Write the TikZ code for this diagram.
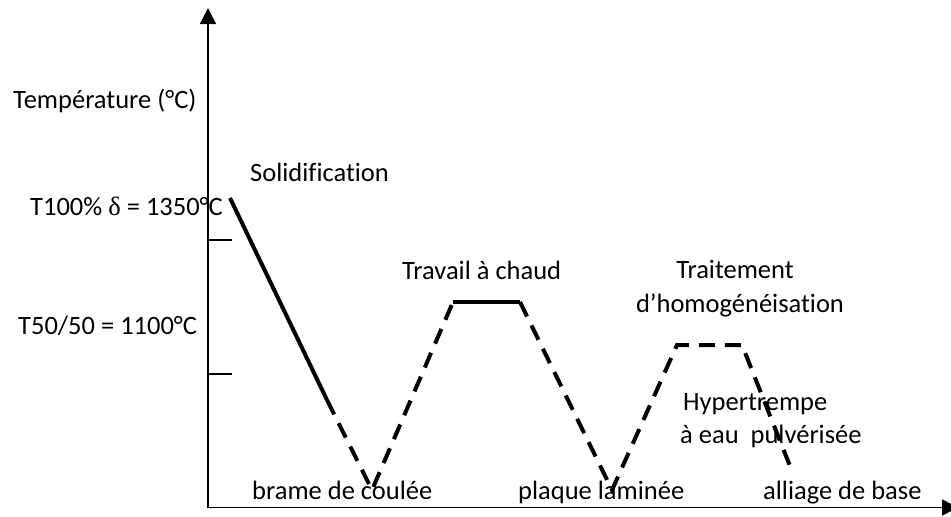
\documentclass[tikz,border=0pt]{standalone}
\usepackage{fontspec}
\setmainfont[Ligatures=NoCommon]{Carlito}
\newfontfamily\grkfont{Liberation Serif}
\usetikzlibrary{arrows.meta}
\begin{document}
\begin{tikzpicture}[x=1pt,y=-1pt,
  axis/.style={line width=1.5pt},
  tickline/.style={line width=1.2pt},
  curve/.style={line width=4pt},
  dcurve/.style={line width=4pt,dash pattern=on 16pt off 10pt},
  lbl/.style={anchor=base west,inner sep=0pt,font=\fontsize{26.5}{31}\selectfont}]
\useasboundingbox (0,0) rectangle (951,517);
% axes
\coordinate (O) at (208,507.5);
\coordinate (ytop) at (208,8);
\coordinate (xend) at (958,507.5);
\draw[axis,-{Triangle[length=16pt,width=16pt]}] (O) -- (ytop);
\draw[axis,-{Triangle[length=16pt,width=16pt]}] (O) -- (xend);
% ticks
\coordinate (t1a) at (208,240); \coordinate (t1b) at (232,240);
\coordinate (t2a) at (208,374); \coordinate (t2b) at (232,374);
\draw[tickline] (t1a) -- (t1b);
\draw[tickline] (t2a) -- (t2b);
% curve
\coordinate (c0) at (230,198);
\coordinate (c1) at (327,400);
\coordinate (c2) at (372,490);
\coordinate (c3) at (453,302);
\coordinate (c4) at (520,302);
\coordinate (c5) at (612,490);
\coordinate (c6) at (677,345);
\coordinate (c7) at (742,345);
\coordinate (c8) at (790,466);
% labels
\node[lbl] (ylab) at (13,108) {Température (°C)};
\node[lbl] (t100) at (30,215) {T100\% {\grkfont δ} = 1350°C};
\node[lbl] (t50) at (18,334) {T50/50 = 1100°C};
\node[lbl] (solid) at (250,181) {Solidification};
\node[lbl] (trav) at (402,279) {Travail à chaud};
\node[lbl,anchor=base] (trait1) at (735,278) {Traitement};
\node[lbl,anchor=base] (trait2) at (740,312) {d’homogénéisation};
\node[lbl] (hyp1) at (683,410) {Hypertrempe};
\node[lbl] (hyp2) at (680,443) {à eau\ \ pulvérisée};
\node[lbl] (brame) at (252,499) {brame de coulée};
\node[lbl] (plaque) at (518,499) {plaque laminée};
\node[lbl] (alliage) at (763,499) {alliage de base};
% curve drawing
\draw[curve] (c0) -- (c1);
\draw[dcurve] (c1) -- (c2) -- (c3);
\draw[curve] (c3) -- (c4);
\draw[dcurve] (c4) -- (c5) -- (c6) -- (c7) -- (c8);
\end{tikzpicture}
\end{document}
